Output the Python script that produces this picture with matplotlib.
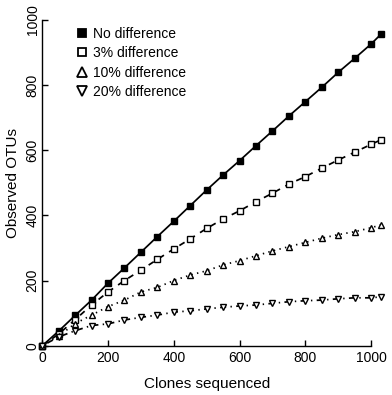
import matplotlib
matplotlib.use("Agg")
import matplotlib.pyplot as plt
from matplotlib.lines import Line2D

plt.rcParams['font.family'] = ['Liberation Sans', 'DejaVu Sans']

# clones sequenced (last sample is a bit past 1000)
clones = [0, 50, 100, 150, 200, 250, 300, 350, 400, 450, 500, 550, 600,
          650, 700, 750, 800, 850, 900, 950, 1000, 1030]

# observed OTUs per cutoff
otu_0 = [0, 45, 93, 140, 192, 239, 287, 335, 382, 430, 478, 524, 568,
         614, 659, 705, 749, 793, 839, 882, 926, 956]
otu_3 = [0, 36, 80, 125, 165, 200, 232, 265, 297, 328, 360, 389, 414,
         442, 468, 496, 519, 545, 570, 594, 618, 632]
otu_10 = [0, 30, 68, 94, 120, 140, 165, 179, 200, 217, 230, 248, 261,
          276, 291, 304, 317, 330, 341, 350, 362, 371]
otu_20 = [0, 27, 46, 62, 67, 79, 87, 94, 103, 107, 113, 118, 122,
          125, 130, 135, 138, 140, 144, 147, 147, 150]

labels = ["No difference", "3% difference", "10% difference", "20% difference"]
ticks = [0, 200, 400, 600, 800, 1000]

W, H = 392, 395
fig = plt.figure(figsize=(W / 100, H / 100), dpi=100)
ax = fig.add_axes([42.3 / W, (H - 345.7) / H, (371 - 42.3) / W, (345.7 - 20) / H])

series = [
    (otu_0, 's', 'black', '-'),
    (otu_3, 's', 'white', (0, (3.5, 3.5))),
    (otu_10, '^', 'white', (0, (0.8, 2.5))),
    (otu_20, 'v', 'white', (0, (0.8, 2.5, 3.5, 2.5))),
]
for ys, m, fc, ls in series:
    ax.plot(clones, ys, color='black', lw=1.25, ls=ls, marker=m,
            ms=4.2 if m == 's' else 5, mfc=fc, mec='black', mew=1.0,
            clip_on=False, zorder=3)

ax.set_xlim(0, 1000)
ax.set_ylim(0, 1000)
ax.set_xticks(ticks)
ax.set_yticks(ticks)
for s in ['top', 'right']:
    ax.spines[s].set_visible(False)
ax.spines['left'].set_bounds(0, 1000)
ax.spines['bottom'].set_bounds(0, 1000)
ax.spines['left'].set_linewidth(1.0)
ax.spines['bottom'].set_linewidth(1.0)
ax.tick_params(direction='in', length=4, width=1.0, labelsize=10)
ax.tick_params(axis='x', pad=4)
ax.tick_params(axis='y', pad=2)
for lbl in ax.get_yticklabels():
    lbl.set_rotation(90)
    lbl.set_va('center')

ax.set_xlabel("Clones sequenced", fontsize=11)
ax.set_ylabel("Observed OTUs", fontsize=11)
ax.xaxis.set_label_coords(0.5, -0.096)
ax.yaxis.set_label_coords(-0.069, 0.5)

handles = [Line2D([], [], ls='none', marker=m, ms=6 if m == 's' else 7,
                  mfc=fc, mec='black', mew=1.3)
           for _, m, fc, _ in series]
ax.legend(handles, labels, loc='upper left', frameon=False, fontsize=10,
          bbox_to_anchor=(76.5 / W, 1 - 27 / H), bbox_transform=fig.transFigure,
          borderpad=0, borderaxespad=0, handlelength=0.8, handletextpad=0.4,
          labelspacing=0.38)

fig.savefig("out.png", dpi=100)
